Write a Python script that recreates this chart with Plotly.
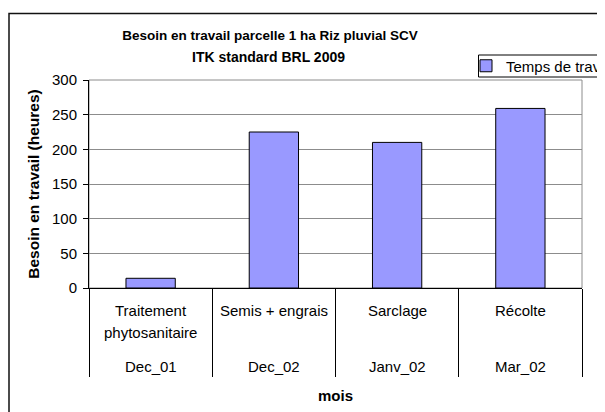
import plotly.graph_objects as go

# ---- data ----
categories = ["Traitement<br>phytosanitaire", "Semis + engrais", "Sarclage", "Récolte"]
months = ["Dec_01", "Dec_02", "Janv_02", "Mar_02"]
hours = [14, 225, 210, 259]
series_name = "Temps de travail"
title_lines = ["Besoin en travail parcelle 1 ha Riz pluvial SCV", "ITK standard BRL 2009"]
y_ticks = [0, 50, 100, 150, 200, 250, 300]
y_title = "Besoin en travail (heures)"
x_title = "mois"

# ---- layout constants (figure pixels; page body adds an 8px offset) ----
OFF = 8
W, H = 597, 404
L, R, T, B = 81, 23, 72, 124
PW, PH = W - L - R, H - T - B
FONT = "Liberation Sans, Arial, sans-serif"


def px_x(sx):
    """screen x -> paper x"""
    return (sx - OFF - L) / PW


def px_y(sy):
    """screen y -> paper y"""
    return (H - B - (sy - OFF)) / PH


fig = go.Figure(
    go.Bar(
        x=categories,
        y=hours,
        name=series_name,
        showlegend=True,
        marker=dict(color="#9999FF", line=dict(color="black", width=1)),
    )
)

# category / month labels under the axis
annotations = []
for cat, month in zip(categories, months):
    for i, line in enumerate(cat.split("<br>")):
        annotations.append(dict(
            text=line, x=cat, xref="x", y=0, yref="paper",
            yshift=-22 - 22 * i, xanchor="center", yanchor="middle",
            showarrow=False, font=dict(size=15),
        ))
    annotations.append(dict(
        text=month, x=cat, xref="x", y=0, yref="paper",
        yshift=-78, xanchor="center", yanchor="middle",
        showarrow=False, font=dict(size=15),
    ))
annotations.append(dict(
    text="<b>%s</b>" % x_title, x=0.5, xref="paper", y=0, yref="paper",
    yshift=-107, xanchor="center", yanchor="middle",
    showarrow=False, font=dict(size=15),
))
annotations.append(dict(
    text="<b>%s</b>" % title_lines[1], font=dict(size=14),
    xref="paper", yref="paper", x=px_x(268), y=px_y(57),
    xanchor="center", yanchor="middle", showarrow=False,
))

fig.update_layout(
    width=W,
    height=H,
    margin=dict(l=L, r=R, t=T, b=B, autoexpand=False),
    paper_bgcolor="white",
    plot_bgcolor="white",
    font=dict(family=FONT, size=15, color="black"),
    bargap=0.6,
    title=dict(
        text="<b>%s</b>" % title_lines[0],
        font=dict(size=13.5),
        xref="container", x=(270 - OFF) / W, xanchor="center",
        yref="container", y=1 - (35 - OFF) / H, yanchor="middle",
    ),
    legend=dict(
        x=px_x(466), y=px_y(66), xanchor="left", yanchor="middle",
        borderwidth=0, bgcolor="rgba(0,0,0,0)",
        font=dict(size=15),
    ),
    annotations=annotations,
    shapes=[
        dict(type="rect", xref="paper", yref="paper", x0=0, x1=1, y0=0, y1=1,
             line=dict(color="#8c8c8c", width=1), layer="below"),
        dict(type="rect", xref="paper", yref="paper",
             x0=px_x(9), x1=px_x(660), y0=px_y(460), y1=px_y(13.5),
             line=dict(color="#111111", width=1.5), layer="below"),
        dict(type="rect", xref="paper", yref="paper",
             x0=px_x(478.5), x1=px_x(660), y0=px_y(77), y1=px_y(55),
             line=dict(color="black", width=1), fillcolor="white", layer="below"),
    ],
)

fig.update_xaxes(
    type="category",
    showline=True, linecolor="black", linewidth=1,
    showticklabels=False,
    ticks="outside", tickson="boundaries", ticklen=88,
    tickcolor="black", tickwidth=1,
    showgrid=False,
)

fig.update_yaxes(
    range=[0, 300],
    tickvals=y_ticks,
    ticks="outside", ticklen=5, tickcolor="black",
    ticklabelstandoff=3,
    showline=True, linecolor="black", linewidth=1,
    showgrid=True, gridcolor="#8c8c8c", gridwidth=1,
    zeroline=False,
    tickfont=dict(size=15),
    title=dict(text="<b>%s</b>" % y_title, font=dict(size=15.5), standoff=8),
)

fig.write_html("out.html")
